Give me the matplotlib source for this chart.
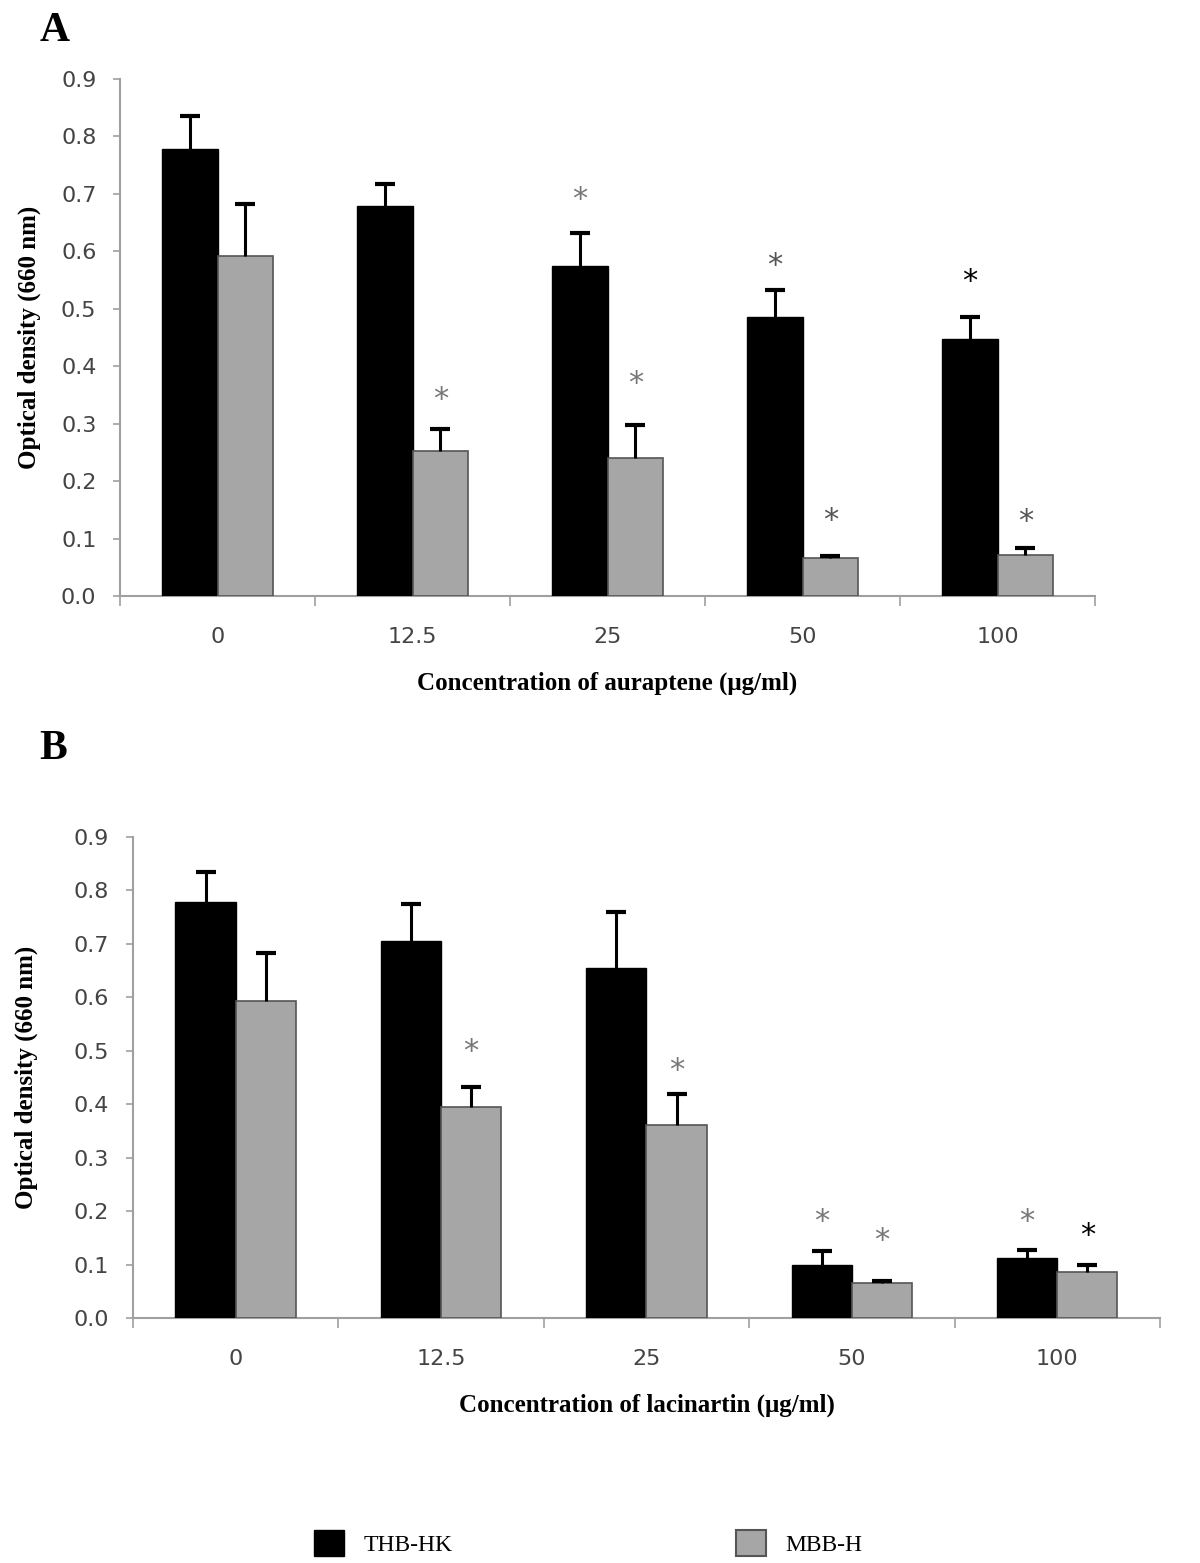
import numpy as np
import matplotlib.pyplot as plt
from matplotlib.patches import Patch

# ---- data ----
conc = ["0", "12.5", "25", "50", "100"]

a_thb = [0.778, 0.678, 0.575, 0.485, 0.447]
a_thb_err = [0.057, 0.039, 0.057, 0.048, 0.038]
a_mbb = [0.592, 0.253, 0.240, 0.066, 0.071]
a_mbb_err = [0.090, 0.037, 0.057, 0.004, 0.012]

b_thb = [0.778, 0.705, 0.655, 0.100, 0.113]
b_thb_err = [0.057, 0.070, 0.105, 0.025, 0.014]
b_mbb = [0.593, 0.395, 0.362, 0.066, 0.087]
b_mbb_err = [0.090, 0.038, 0.058, 0.004, 0.013]

# significance marks: (series, category index, y, colour)
a_stars = [("thb", 2, 0.69, "#777777"), ("thb", 3, 0.575, "#555555"), ("thb", 4, 0.548, "black"),
           ("mbb", 1, 0.342, "#777777"), ("mbb", 2, 0.37, "#777777"),
           ("mbb", 3, 0.132, "#555555"), ("mbb", 4, 0.13, "#555555")]
b_stars = [("mbb", 1, 0.498, "#777777"), ("mbb", 2, 0.464, "#777777"),
           ("thb", 3, 0.18, "#777777"), ("mbb", 3, 0.145, "#777777"),
           ("thb", 4, 0.18, "#777777"), ("mbb", 4, 0.155, "black")]

BLACK = "#000000"
GREY = "#a6a6a6"
AXCOL = "#a0a0a0"
SERIF = "Liberation Serif"

fig = plt.figure(figsize=(12, 15.63), dpi=100)


def upper_err(ax, xs, vals, errs):
    vals = np.asarray(vals)
    tops = vals + np.asarray(errs)
    ax.vlines(xs, vals, tops, color="black", linewidth=2.2, zorder=4)
    ax.plot(xs, tops, linestyle="none", marker="_", markersize=15,
            markeredgewidth=3, color="black", zorder=4)


def panel(ax, thb, thb_err, mbb, mbb_err, stars, xlabel, w, ylpad):
    x = np.arange(len(conc))
    ax.bar(x - w / 2, thb, w, color=BLACK, edgecolor="black", linewidth=1, zorder=3)
    ax.bar(x + w / 2, mbb, w, color=GREY, edgecolor="#555555", linewidth=1.2, zorder=3)
    upper_err(ax, x - w / 2, thb, thb_err)
    upper_err(ax, x + w / 2, mbb, mbb_err)
    for s, i, y, c in stars:
        xx = x[i] - w / 2 if s == "thb" else x[i] + w / 2
        ax.text(xx, y, "*", ha="center", va="center", fontsize=22,
                color=c, family="DejaVu Sans")
    ax.set_xlim(-0.5, len(conc) - 0.5)
    ax.set_ylim(0, 0.9)
    ax.set_yticks(np.arange(0, 0.91, 0.1))
    ax.set_yticklabels([f"{v:.1f}" for v in np.arange(0, 0.91, 0.1)])
    ax.set_xticks(x)
    ax.set_xticklabels(conc)
    ax.set_xticks(np.arange(-0.5, len(conc), 1.0), minor=True)
    ax.tick_params(axis="x", which="major", length=0, pad=22,
                   labelsize=16, labelcolor="#444444")
    ax.tick_params(axis="x", which="minor", length=7, width=1.2,
                   color=AXCOL, direction="out")
    ax.tick_params(axis="y", length=5, width=1.2, color=AXCOL, pad=12,
                   labelsize=16, labelcolor="#444444")
    for side in ["top", "right"]:
        ax.spines[side].set_visible(False)
    for side in ["left", "bottom"]:
        ax.spines[side].set_color(AXCOL)
        ax.spines[side].set_linewidth(1.5)
    ax.set_xlabel(xlabel, family=SERIF, fontweight="bold", fontsize=18, labelpad=18)
    ax.set_ylabel("Optical density (660 nm)", family=SERIF, fontweight="bold",
                  fontsize=18, labelpad=ylpad)


axA = fig.add_axes([0.100, 0.6187, 0.8125, 0.3308])
panel(axA, a_thb, a_thb_err, a_mbb, a_mbb_err, a_stars,
      "Concentration of auraptene (\u03bcg/ml)", 0.287, 14)

axB = fig.add_axes([0.1108, 0.1567, 0.8558, 0.3078])
panel(axB, b_thb, b_thb_err, b_mbb, b_mbb_err, b_stars,
      "Concentration of lacinartin (\u03bcg/ml)", 0.293, 26)

fig.text(0.033, 0.980, "A", family=SERIF, fontweight="bold", fontsize=30, va="center")
fig.text(0.033, 0.521, "B", family=SERIF, fontweight="bold", fontsize=30, va="center")

handles = [Patch(facecolor=BLACK, edgecolor="black", label="THB-HK"),
           Patch(facecolor=GREY, edgecolor="#555555", linewidth=1.5, label="MBB-H")]
fig.legend(handles=handles, loc="center", bbox_to_anchor=(0.49, 0.013), ncol=2,
           frameon=False, handlelength=1.3, handleheight=1.3, columnspacing=12,
           prop={"family": SERIF, "size": 17})

fig.savefig("out.png", dpi=100, facecolor="white")
